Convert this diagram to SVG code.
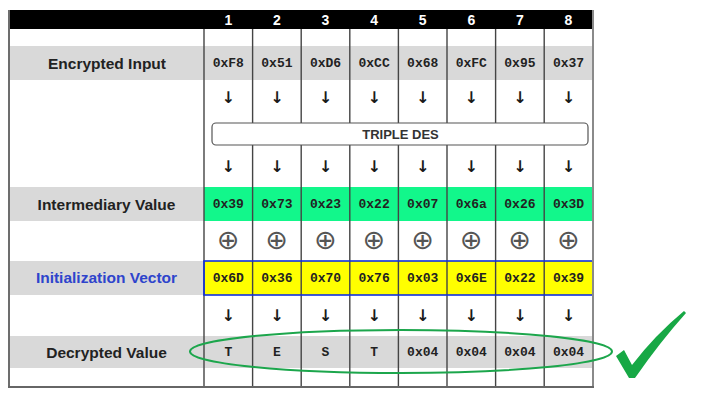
<svg xmlns="http://www.w3.org/2000/svg" width="704" height="405" viewBox="0 0 704 405">
<defs>
<style>
.lbl{font-family:"Liberation Sans",Arial,sans-serif;font-weight:bold;font-size:15.5px;fill:#222;text-anchor:middle}
.hex{font-family:"Liberation Mono","Courier New",monospace;font-weight:bold;font-size:13px;fill:#222;text-anchor:middle}
.hdr{font-family:"Liberation Sans",Arial,sans-serif;font-weight:bold;font-size:14px;fill:#fff;text-anchor:middle}
.arr{font-family:"DejaVu Sans",sans-serif;font-weight:bold;font-size:16px;fill:#1a1a1a;text-anchor:middle}
.xor{font-family:"DejaVu Sans",sans-serif;font-size:27px;fill:#555;text-anchor:middle}
.gray{fill:#d9d9d9}
.vl{stroke:#444;stroke-width:1.4}
</style>
</defs>
<rect width="704" height="405" fill="#fff"/>
<g id="table">
<rect x="9" y="10" width="584" height="19" fill="#000"/>
<rect class="gray" x="9" y="46" width="584" height="34"/>
<rect class="gray" x="9" y="187" width="584" height="34"/>
<rect fill="#12f78b" x="204" y="187" width="389" height="34"/>
<rect class="gray" x="9" y="261" width="584" height="34"/>
<rect fill="#ffff00" x="204" y="261" width="389" height="34"/>
<rect class="gray" x="9" y="336" width="584" height="32"/>
<g id="vlines">
<line class="vl" x1="204" y1="29" x2="204" y2="387"/>
<line class="vl" x1="252.6" y1="29" x2="252.6" y2="387"/>
<line class="vl" x1="301.2" y1="29" x2="301.2" y2="387"/>
<line class="vl" x1="349.8" y1="29" x2="349.8" y2="387"/>
<line class="vl" x1="398.4" y1="29" x2="398.4" y2="387"/>
<line class="vl" x1="447" y1="29" x2="447" y2="387"/>
<line class="vl" x1="495.6" y1="29" x2="495.6" y2="387"/>
<line class="vl" x1="544.2" y1="29" x2="544.2" y2="387"/>
</g>
<rect x="204" y="261" width="389" height="34" fill="none" stroke="#1030e0" stroke-width="1.6"/>
<line x1="9" y1="10" x2="9" y2="388" stroke="#6d6d6d" stroke-width="2"/>
<line x1="593" y1="10" x2="593" y2="388" stroke="#8a8a8a" stroke-width="2"/>
<line x1="8" y1="387" x2="594" y2="387" stroke="#666" stroke-width="2"/>
</g>
<g id="header">
<text class="hdr" x="228.3" y="25">1</text>
<text class="hdr" x="276.9" y="25">2</text>
<text class="hdr" x="325.5" y="25">3</text>
<text class="hdr" x="374.1" y="25">4</text>
<text class="hdr" x="422.7" y="25">5</text>
<text class="hdr" x="471.3" y="25">6</text>
<text class="hdr" x="519.9" y="25">7</text>
<text class="hdr" x="568.5" y="25">8</text>
</g>
<g id="encrypted-input">
<text class="lbl" x="107" y="68.5">Encrypted Input</text>
<text class="hex" x="228.3" y="67">0xF8</text>
<text class="hex" x="276.9" y="67">0x51</text>
<text class="hex" x="325.5" y="67">0xD6</text>
<text class="hex" x="374.1" y="67">0xCC</text>
<text class="hex" x="422.7" y="67">0x68</text>
<text class="hex" x="471.3" y="67">0xFC</text>
<text class="hex" x="519.9" y="67">0x95</text>
<text class="hex" x="568.5" y="67">0x37</text>
</g>
<g id="triple-des">
<rect x="212" y="123" width="376" height="22" rx="4" fill="#fff" stroke="#555" stroke-width="1.2"/>
<text x="400.5" y="139" style="font-family:'Liberation Sans',Arial,sans-serif;font-weight:bold;font-size:13px;fill:#333;text-anchor:middle">TRIPLE DES</text>
</g>
<g id="intermediary-value">
<text class="lbl" x="106.5" y="209.5">Intermediary Value</text>
<text class="hex" x="228.3" y="208">0x39</text>
<text class="hex" x="276.9" y="208">0x73</text>
<text class="hex" x="325.5" y="208">0x23</text>
<text class="hex" x="374.1" y="208">0x22</text>
<text class="hex" x="422.7" y="208">0x07</text>
<text class="hex" x="471.3" y="208">0x6a</text>
<text class="hex" x="519.9" y="208">0x26</text>
<text class="hex" x="568.5" y="208">0x3D</text>
</g>
<g id="xor">
<text class="xor" x="228.3" y="249">⊕</text>
<text class="xor" x="276.9" y="249">⊕</text>
<text class="xor" x="325.5" y="249">⊕</text>
<text class="xor" x="374.1" y="249">⊕</text>
<text class="xor" x="422.7" y="249">⊕</text>
<text class="xor" x="471.3" y="249">⊕</text>
<text class="xor" x="519.9" y="249">⊕</text>
<text class="xor" x="568.5" y="249">⊕</text>
</g>
<g id="initialization-vector">
<text class="lbl" x="106.5" y="283" style="fill:#2e44cc">Initialization Vector</text>
<text class="hex" x="228.3" y="282">0x6D</text>
<text class="hex" x="276.9" y="282">0x36</text>
<text class="hex" x="325.5" y="282">0x70</text>
<text class="hex" x="374.1" y="282">0x76</text>
<text class="hex" x="422.7" y="282">0x03</text>
<text class="hex" x="471.3" y="282">0x6E</text>
<text class="hex" x="519.9" y="282">0x22</text>
<text class="hex" x="568.5" y="282">0x39</text>
</g>
<g id="decrypted-value">
<text class="lbl" x="106.5" y="357.5">Decrypted Value</text>
<text class="hex" x="228.3" y="356">T</text>
<text class="hex" x="276.9" y="356">E</text>
<text class="hex" x="325.5" y="356">S</text>
<text class="hex" x="374.1" y="356">T</text>
<text class="hex" x="422.7" y="356">0x04</text>
<text class="hex" x="471.3" y="356">0x04</text>
<text class="hex" x="519.9" y="356">0x04</text>
<text class="hex" x="568.5" y="356">0x04</text>
</g>
<g id="connectors">
<text class="arr" x="228.3" y="103">↓</text>
<text class="arr" x="276.9" y="103">↓</text>
<text class="arr" x="325.5" y="103">↓</text>
<text class="arr" x="374.1" y="103">↓</text>
<text class="arr" x="422.7" y="103">↓</text>
<text class="arr" x="471.3" y="103">↓</text>
<text class="arr" x="519.9" y="103">↓</text>
<text class="arr" x="568.5" y="103">↓</text>
<text class="arr" x="228.3" y="172">↓</text>
<text class="arr" x="276.9" y="172">↓</text>
<text class="arr" x="325.5" y="172">↓</text>
<text class="arr" x="374.1" y="172">↓</text>
<text class="arr" x="422.7" y="172">↓</text>
<text class="arr" x="471.3" y="172">↓</text>
<text class="arr" x="519.9" y="172">↓</text>
<text class="arr" x="568.5" y="172">↓</text>
<text class="arr" x="228.3" y="321">↓</text>
<text class="arr" x="276.9" y="321">↓</text>
<text class="arr" x="325.5" y="321">↓</text>
<text class="arr" x="374.1" y="321">↓</text>
<text class="arr" x="422.7" y="321">↓</text>
<text class="arr" x="471.3" y="321">↓</text>
<text class="arr" x="519.9" y="321">↓</text>
<text class="arr" x="568.5" y="321">↓</text>
</g>
<g id="highlight">
<ellipse cx="401" cy="351.5" rx="211" ry="21.5" fill="none" stroke="#1ca64c" stroke-width="2"/>
<path d="M616,356 L624,350 L632,365 Q655,335 684,311 L686,313 Q660,342 635,378 L629,378 Z" fill="#17a845"/>
</g>
</svg>
